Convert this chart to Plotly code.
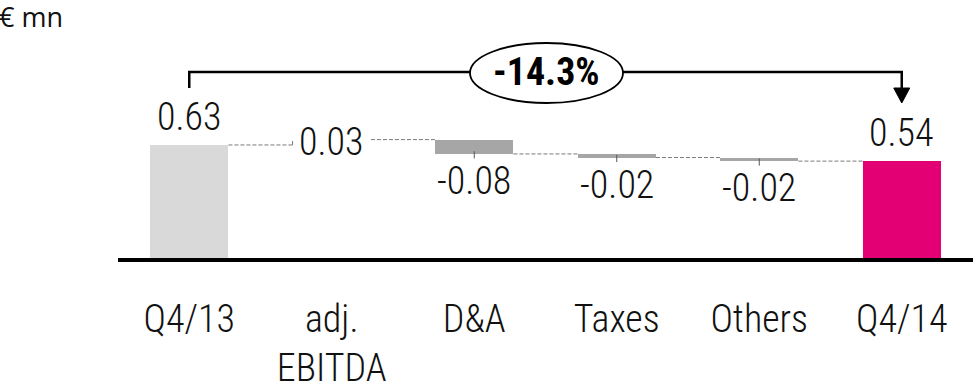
import plotly.graph_objects as go

# ---- data ----
categories = ["Q4/13", "adj.<br>EBITDA", "D&A", "Taxes", "Others", "Q4/14"]
measures = ["absolute", "relative", "relative", "relative", "relative", "absolute"]
values = [0.63, 0.03, -0.08, -0.02, -0.02, 0.54]
value_labels = ["0.63", "0.03", "-0.08", "-0.02", "-0.02", "0.54"]
change_label = "-14.3%"
unit_label = "€ mn"

colors = ["#d9d9d9", "rgba(0,0,0,0)", "#a6a6a6", "#a6a6a6", "#a6a6a6", "#e20074"]

FONT = "Roboto Condensed, Liberation Sans Narrow, DejaVu Sans Condensed, sans-serif"
TXT = "#111111"
W = 974
H = 381
ML, MR, MT, MB = 118, 1, 0, 123
BW = 0.55
PXV = 179.4  # pixels per unit value

# compute bases / ends
bases, heights, ends = [], [], []
run = 0.0
for m, v in zip(measures, values):
    if m == "absolute":
        bases.append(0.0)
        run = v
    else:
        bases.append(run)
        run = run + v
    heights.append(v)
    ends.append(run)

xs = list(range(len(categories)))
fig = go.Figure()
fig.add_trace(go.Bar(
    x=xs, y=heights, base=bases, width=BW,
    marker=dict(color=colors, line=dict(width=0)),
    hoverinfo="skip", showlegend=False,
))

# connectors
cx, cy = [], []
for i in range(len(xs) - 1):
    lvl = ends[i]
    cx += [xs[i] + BW / 2, xs[i + 1] - BW / 2, None]
    cy += [lvl, lvl, None]
# small edge on invisible adj. EBITDA bar
cx += [xs[1] - BW / 2, xs[1] - BW / 2, None]
cy += [bases[1], ends[1], None]
fig.add_trace(go.Scatter(x=cx, y=cy, mode="lines",
                         line=dict(color="#7a7a7a", width=1, dash="4px,2px"),
                         hoverinfo="skip", showlegend=False))

# leader ticks under negative bars
lx, ly = [], []
for i, (m, v) in enumerate(zip(measures, values)):
    if m == "relative" and v < 0:
        lx += [xs[i], xs[i], None]
        ly += [ends[i] + 0.015, ends[i] - 0.025, None]
fig.add_trace(go.Scatter(x=lx, y=ly, mode="lines",
                         line=dict(color="#555555", width=1),
                         hoverinfo="skip", showlegend=False))

LBL = dict(family=FONT, size=38, color=TXT, weight=300)
annotations = []
for i, (m, v) in enumerate(zip(measures, values)):
    if m == "absolute":
        annotations.append(dict(x=xs[i], y=ends[i], text=value_labels[i], showarrow=False,
                                xanchor="center", yanchor="bottom", yshift=4, font=LBL))
    elif v > 0:
        annotations.append(dict(x=xs[i], y=bases[i] + v / 2, text=value_labels[i], showarrow=False,
                                xanchor="center", yanchor="middle", font=LBL))
    else:
        annotations.append(dict(x=xs[i], y=ends[i], text=value_labels[i], showarrow=False,
                                xanchor="center", yanchor="top", yshift=-3, font=LBL))

# bracket
plot_w = W - ML - MR
plot_h = H - MT - MB
pxu = plot_w / len(xs)
yr = plot_h / PXV

def dx(px):
    return (px - ML) / pxu - 0.5

def dy(py):
    return (MT + plot_h - py) / PXV

yb = dy(72)
shapes = [
    dict(type="path", xref="x", yref="y",
         path=f"M {xs[0]},{dy(88)} L {xs[0]},{yb} L {xs[-1]},{yb} L {xs[-1]},{dy(88)}",
         line=dict(color="black", width=2.5)),
    dict(type="path", xref="x", yref="y",
         path=f"M {xs[-1]-8/pxu},{dy(88)} L {xs[-1]+8/pxu},{dy(88)} L {xs[-1]},{dy(103)} Z",
         fillcolor="black", line=dict(color="black", width=1)),
    dict(type="circle", xref="x", yref="y",
         x0=dx(470), x1=dx(623), y0=dy(103), y1=dy(43),
         fillcolor="white", line=dict(color="black", width=1.8)),
]
annotations.append(dict(x=(dx(470) + dx(623)) / 2, y=yb, text=f"<b>{change_label}</b>",
                        showarrow=False, xanchor="center", yanchor="middle",
                        font=dict(family=FONT, size=38, color="black", weight=700)))
annotations.append(dict(xref="paper", yref="paper", x=-ML / plot_w, y=1, text=unit_label,
                        showarrow=False, xanchor="left", yanchor="top", xshift=-3, yshift=4,
                        font=dict(family="Open Sans, sans-serif", size=27, color=TXT)))

fig.update_layout(
    width=W, height=H,
    margin=dict(l=ML, r=MR, t=MT, b=MB, pad=0, autoexpand=False),
    plot_bgcolor="white", paper_bgcolor="white",
    bargap=0,
    shapes=shapes,
    annotations=annotations,
    xaxis=dict(range=[-0.5, len(xs) - 0.5], tickvals=xs, ticktext=categories,
               showline=True, linecolor="black", linewidth=4, ticks="",
               showgrid=False, zeroline=False, fixedrange=True, automargin=False,
               ticklabelstandoff=24,
               tickfont=dict(family=FONT, size=38, color=TXT, weight=300)),
    yaxis=dict(range=[0, yr], visible=False, fixedrange=True, automargin=False),
)
fig.write_html("out.html", config={"displayModeBar": False},
               post_script="document.body.style.margin='0';document.body.style.overflow='hidden';")
